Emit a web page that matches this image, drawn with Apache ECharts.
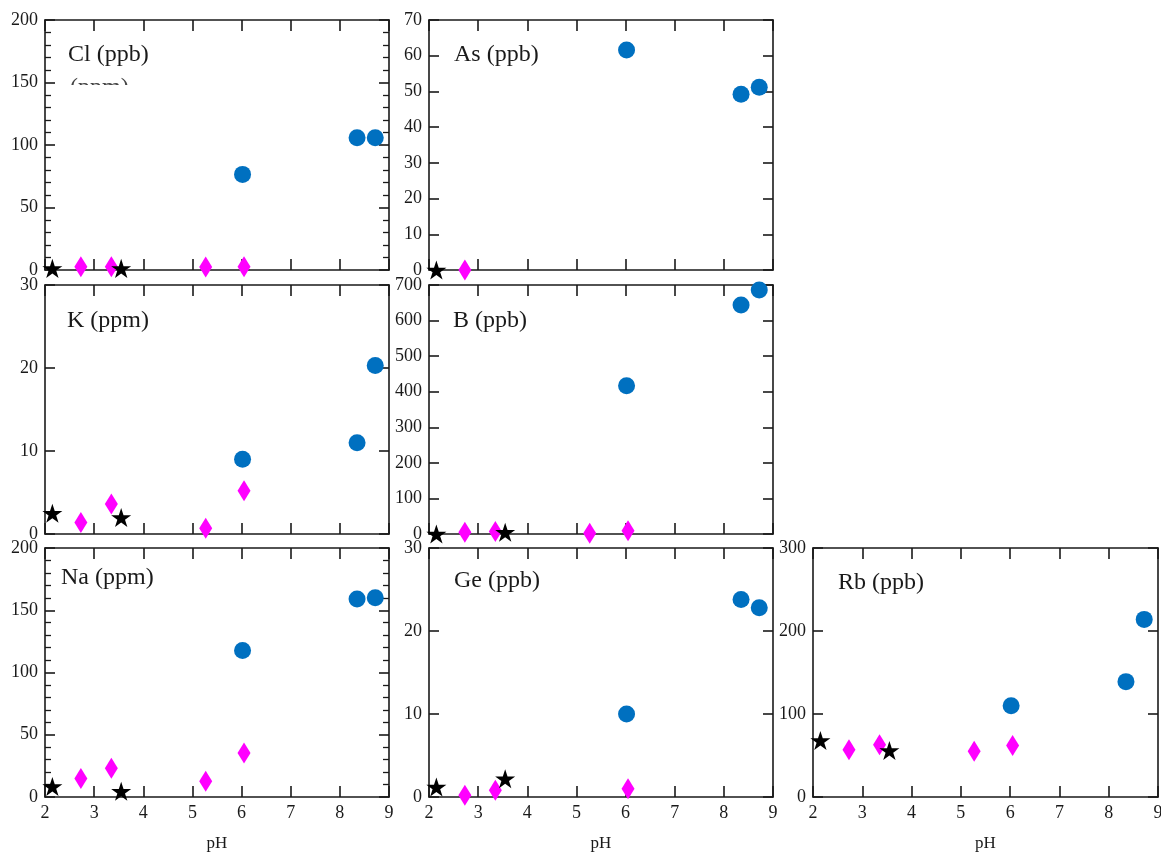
<!DOCTYPE html>
<html>
<head>
<meta charset="utf-8">
<script src="https://cdn.jsdelivr.net/npm/echarts@6/dist/echarts.min.js"></script>
<style>html,body{margin:0;padding:0;background:#fff}#chart{width:1161px;height:854px}</style>
</head>
<body>
<div id="chart"></div>
<script>
// pH of the samples (x values)
const pH_star = [2.15, 3.55];
const pH_diamond = [2.73, 3.35, 5.27, 6.05];
const pH_circle = [6.02, 8.35, 8.72];

// panel titles
const titles = ['Cl (ppb)', 'As (ppb)', 'K (ppm)', 'B (ppb)', 'Na (ppm)', 'Ge (ppb)', 'Rb (ppb)'];

// values per panel
const cl_star = [1.3, 1.3];
const cl_diamond = [2.7, 2.7, 2.5, 2.7];
const cl_circle = [76.5, 105.8, 105.8];

const as_star = [0, null];
const as_diamond = [0, null, null, null];
const as_circle = [61.6, 49.2, 51.2];

const k_star = [2.5, 2.0];
const k_diamond = [1.4, 3.6, 0.7, 5.2];
const k_circle = [9.0, 11.0, 20.3];

const b_star = [0, 5];
const b_diamond = [5, 7, 2, 9];
const b_circle = [417, 644, 686];

const na_star = [8.5, 4.6];
const na_diamond = [14.8, 23, 12.6, 35.4];
const na_circle = [117.6, 159, 160];

const ge_star = [1.2, 2.2];
const ge_diamond = [0.2, 0.8, null, 1.0];
const ge_circle = [10.0, 23.8, 22.8];

const rb_star = [68, 56];
const rb_diamond = [57, 63, 55, 62];
const rb_circle = [110, 139, 214];

// y axis ranges
const yMax = [200, 70, 30, 700, 200, 30, 300];
const yInterval = [50, 10, 10, 100, 50, 10, 100];
const yMinor = [true, false, false, false, true, false, false];
const showX = [false, false, false, false, true, true, true];

const starVals = [cl_star, as_star, k_star, b_star, na_star, ge_star, rb_star];
const diamondVals = [cl_diamond, as_diamond, k_diamond, b_diamond, na_diamond, ge_diamond, rb_diamond];
const circleVals = [cl_circle, as_circle, k_circle, b_circle, na_circle, ge_circle, rb_circle];

// layout
const grids = [
  {left: 45, top: 20, width: 344, height: 250},
  {left: 429, top: 20, width: 344, height: 250},
  {left: 45, top: 285, width: 344, height: 249},
  {left: 429, top: 285, width: 344, height: 249},
  {left: 45, top: 548, width: 344, height: 249},
  {left: 429, top: 548, width: 344, height: 249},
  {left: 813, top: 548, width: 345, height: 249}
];
const titlePos = [[68, 43], [454, 43], [67, 309], [453, 309], [61, 566], [454, 569], [838, 571]];

const FONT = 'Liberation Serif';
const INK = '#1a1a1a';
const STAR = 'path://M50 0 L61.23 34.55 L97.55 34.55 L68.17 55.9 L79.39 90.45 L50 69.1 L20.61 90.45 L31.83 55.9 L2.45 34.55 L38.77 34.55 Z';

function pairs(xs, ys) {
  const out = [];
  xs.forEach((x, i) => { if (ys[i] !== null && ys[i] !== undefined) out.push([x, ys[i]]); });
  return out;
}

const xAxes = [], yAxes = [], series = [], titleArr = [];
grids.forEach((g, i) => {
  const line = {show: true, onZero: false, lineStyle: {color: INK, width: 1.6}};
  ['bottom', 'top'].forEach(pos => {
    const lbl = pos === 'bottom' && showX[i];
    xAxes.push({
      gridIndex: i, type: 'value', min: 2, max: 9, interval: 1, position: pos,
      axisLine: line,
      axisTick: {show: true, inside: true, length: 11, lineStyle: {color: INK, width: 1.6}},
      axisLabel: {show: lbl, fontFamily: FONT, fontSize: 18, color: INK, margin: 7},
      splitLine: {show: false},
      name: lbl ? 'pH' : '', nameLocation: 'middle', nameGap: 38,
      nameTextStyle: {fontFamily: FONT, fontSize: 17, color: INK}
    });
  });
  ['left', 'right'].forEach(pos => {
    const lbl = pos === 'left';
    yAxes.push({
      gridIndex: i, type: 'value', min: 0, max: yMax[i], interval: yInterval[i], position: pos,
      axisLine: line,
      axisTick: {show: true, inside: true, length: 10, lineStyle: {color: INK, width: 1.6}},
      minorTick: {show: yMinor[i], splitNumber: 5, length: 6, lineStyle: {color: INK, width: 1.3}},
      axisLabel: {show: lbl, fontFamily: FONT, fontSize: 18, color: INK, margin: 7, showMinLabel: true, showMaxLabel: true},
      splitLine: {show: false}, minorSplitLine: {show: false}
    });
  });
  series.push({
    type: 'scatter', xAxisIndex: 2 * i, yAxisIndex: 2 * i,
    data: pairs(pH_circle, circleVals[i]), symbol: 'circle', symbolSize: 17,
    itemStyle: {color: '#0070c0', opacity: 1}, z: 3
  });
  series.push({
    type: 'scatter', xAxisIndex: 2 * i, yAxisIndex: 2 * i,
    data: pairs(pH_diamond, diamondVals[i]), symbol: 'diamond', symbolSize: [13, 21],
    itemStyle: {color: '#ff00ff', opacity: 1}, z: 4
  });
  series.push({
    type: 'scatter', xAxisIndex: 2 * i, yAxisIndex: 2 * i,
    data: pairs(pH_star, starVals[i]), symbol: STAR, symbolSize: 20, symbolKeepAspect: true,
    itemStyle: {color: '#000', opacity: 1}, z: 5
  });
  titleArr.push({
    text: titles[i], left: titlePos[i][0], top: titlePos[i][1], padding: 0,
    textStyle: {fontFamily: FONT, fontSize: 24, fontWeight: 'normal', color: INK}
  });
});

const chart = echarts.init(document.getElementById('chart'), null, {renderer: 'canvas'});
chart.setOption({
  backgroundColor: '#fff',
  animation: false,
  title: titleArr,
  grid: grids.map(g => Object.assign({containLabel: false, outerBoundsMode: 'none'}, g)),
  xAxis: xAxes,
  yAxis: yAxes,
  series: series,
  graphic: [
    {type: 'text', left: 70, top: 76, z: 10, style: {text: '(ppm)', font: '24px "Liberation Serif"', fill: '#444'}},
    {type: 'rect', left: 64, top: 85, z: 11, shape: {width: 75, height: 24}, style: {fill: '#fff'}}
  ]
});
</script>
</body>
</html>
